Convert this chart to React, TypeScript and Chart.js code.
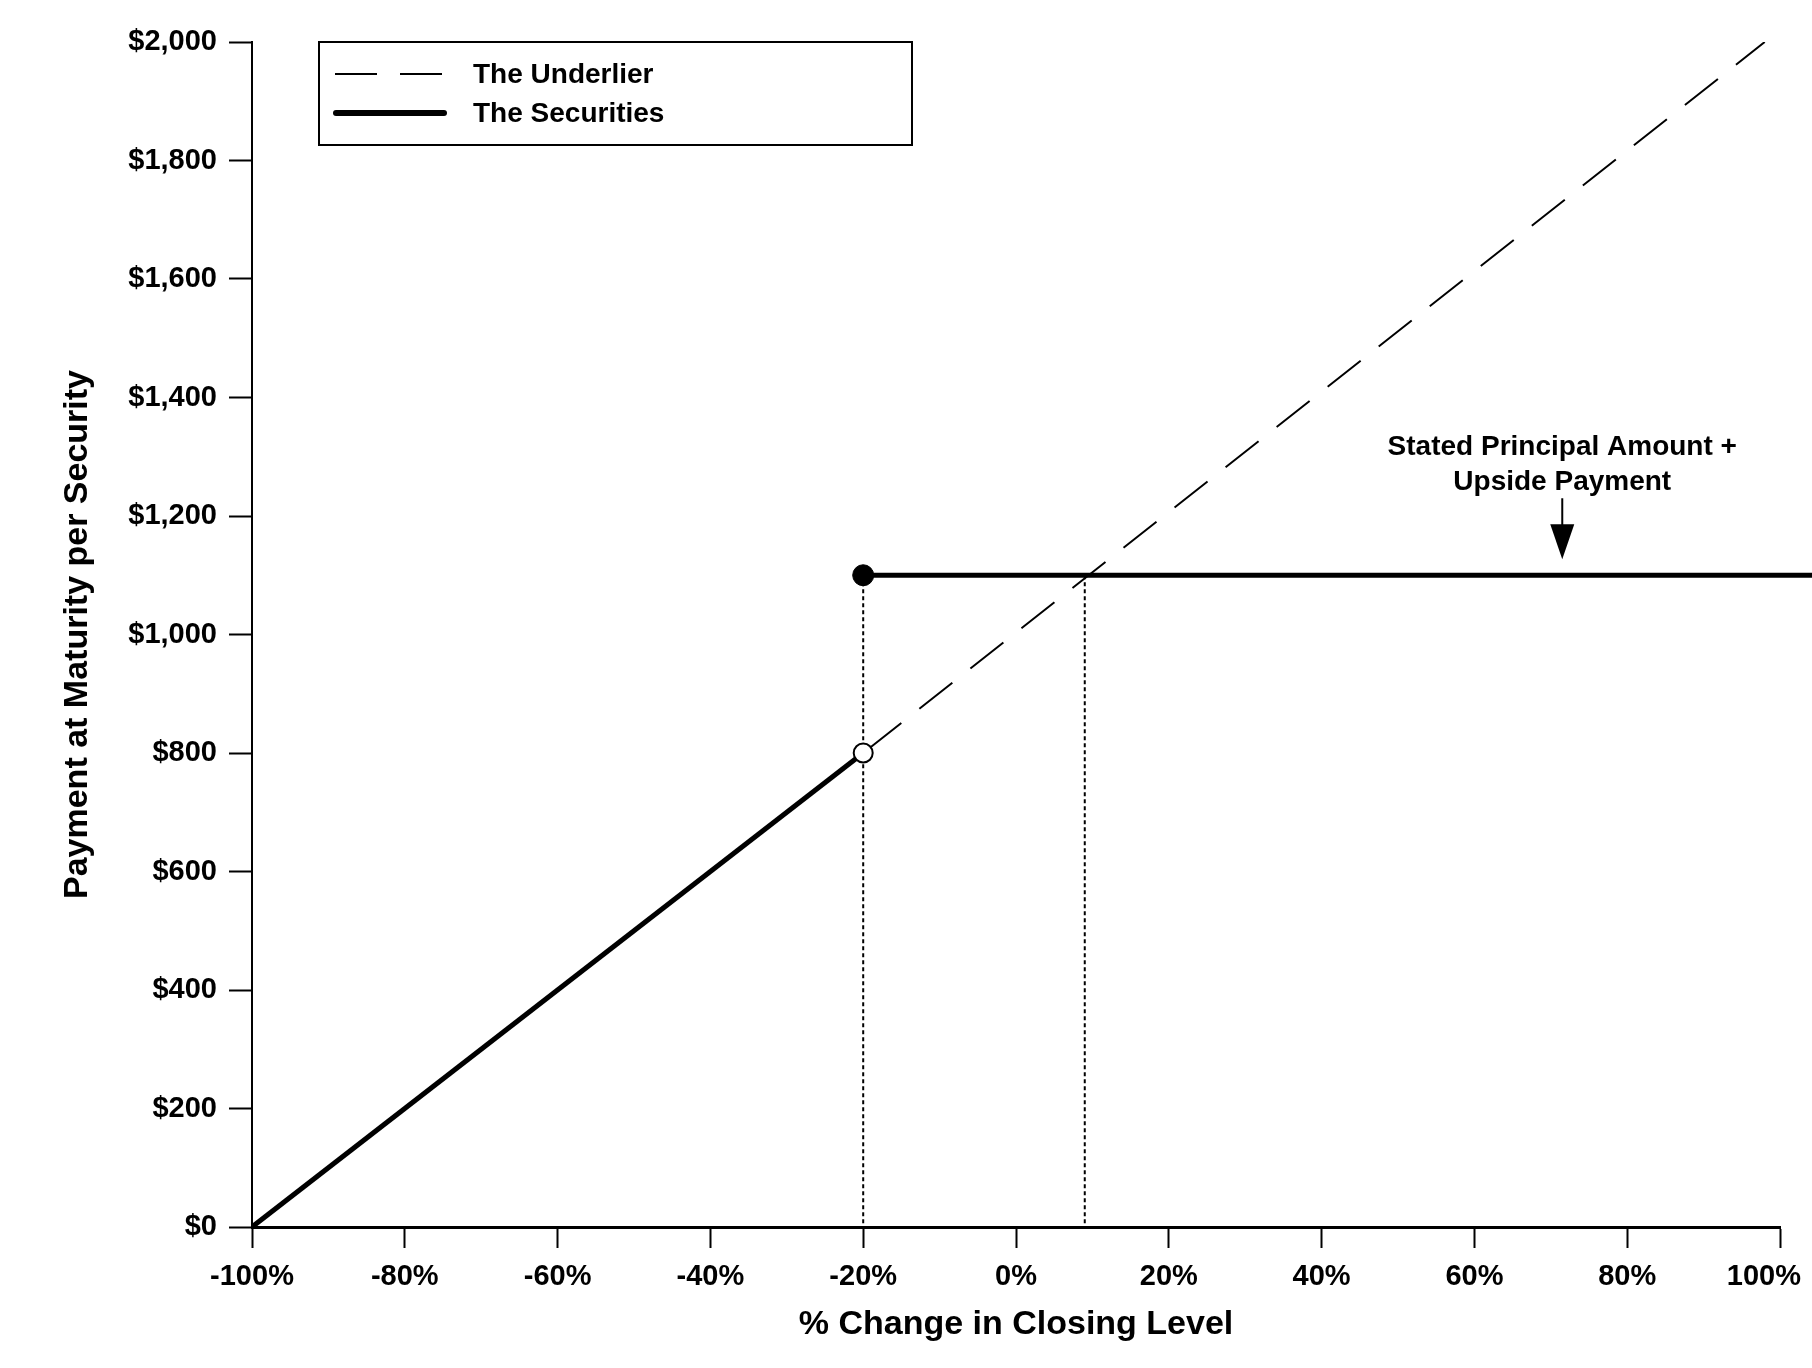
import { useEffect, useRef } from "react"
import { Chart, registerables } from "chart.js"

Chart.register(...registerables)

const FONT = '"Liberation Sans", Arial, Helvetica, sans-serif'

// x = % change in closing level, y = payment at maturity ($)
const underlierX = [-100, -20, 98]
const underlierY = [0, 800, 2000]
const securitiesLowX = [-100, -20]
const securitiesLowY = [0, 800]
const securitiesCapX = [-20, 106]
const securitiesCapY = [1100, 1100]
const guideX = [-20, 9]
const guideTopY = 1100
const openPoint = { x: -20, y: 800 }
const closedPoint = { x: -20, y: 1100 }

const xMin = -100
const xMax = 100
const xStep = 20
const yMin = 0
const yMax = 2000
const yStep = 200

const legendLabels = ["The Underlier", "The Securities"]
const annotationLines = ["Stated Principal Amount +", "Upside Payment"]
const annotationX = 71.5
const annotationTipY = 1127

const toPoints = (xs: number[], ys: number[]) => xs.map((x, i) => ({ x, y: ys[i] }))

const legendPlugin = {
  id: "boxLegend",
  afterDraw(chart: any) {
    const { ctx } = chart
    const sets = chart.data.datasets
    const underlier = sets.find((d: any) => d.label === legendLabels[0])
    const securities = sets.find((d: any) => d.label === legendLabels[1])
    ctx.save()
    ctx.strokeStyle = "#000"
    ctx.lineWidth = 2
    ctx.strokeRect(319, 42, 593, 103)

    ctx.beginPath()
    ctx.setLineDash(underlier.borderDash)
    ctx.lineWidth = underlier.borderWidth
    ctx.moveTo(335, 74)
    ctx.lineTo(445, 74)
    ctx.stroke()

    ctx.beginPath()
    ctx.setLineDash([])
    ctx.lineCap = "round"
    ctx.lineWidth = securities.borderWidth + 1
    ctx.moveTo(336, 113)
    ctx.lineTo(444, 113)
    ctx.stroke()

    ctx.fillStyle = "#000"
    ctx.font = `bold 28px ${FONT}`
    ctx.textBaseline = "middle"
    ctx.textAlign = "left"
    ctx.fillText(legendLabels[0], 473, 75)
    ctx.fillText(legendLabels[1], 473, 114)
    ctx.restore()
  },
}

const annotationPlugin = {
  id: "capAnnotation",
  afterDraw(chart: any) {
    const { ctx, scales } = chart
    const px = scales.x.getPixelForValue(annotationX)
    const tip = scales.y.getPixelForValue(annotationTipY)
    ctx.save()
    ctx.fillStyle = "#000"
    ctx.strokeStyle = "#000"
    ctx.font = `bold 28px ${FONT}`
    ctx.textAlign = "center"
    ctx.textBaseline = "middle"
    ctx.fillText(annotationLines[0], px, tip - 112)
    ctx.fillText(annotationLines[1], px, tip - 77)

    ctx.lineWidth = 2
    ctx.beginPath()
    ctx.moveTo(px, tip - 61)
    ctx.lineTo(px, tip - 34)
    ctx.stroke()

    ctx.beginPath()
    ctx.moveTo(px - 12, tip - 35)
    ctx.lineTo(px + 12, tip - 35)
    ctx.lineTo(px, tip)
    ctx.closePath()
    ctx.fill()
    ctx.restore()
  },
}

function PayoffChart() {
  const chartRef = useRef<HTMLCanvasElement>(null)
  const chartInstance = useRef<Chart | null>(null)

  useEffect(() => {
    if (!chartRef.current) return

    if (chartInstance.current) {
      chartInstance.current.destroy()
    }

    const ctx = chartRef.current.getContext("2d")
    if (!ctx) return

    chartInstance.current = new Chart(ctx, {
      type: "scatter",
      data: {
        datasets: [
          // markers (drawn on top)
          {
            label: "closed",
            data: [closedPoint],
            pointRadius: 10.5,
            pointBackgroundColor: "#000",
            pointBorderColor: "#000",
            pointBorderWidth: 1,
            showLine: false,
          },
          {
            label: "open",
            data: [openPoint],
            pointRadius: 9.5,
            pointBackgroundColor: "#fff",
            pointBorderColor: "#000",
            pointBorderWidth: 2,
            showLine: false,
          },
          {
            label: "The Securities",
            data: toPoints(securitiesLowX, securitiesLowY),
            showLine: true,
            borderColor: "#000",
            borderWidth: 5,
            pointRadius: 0,
          },
          {
            label: "The Securities cap",
            data: toPoints(securitiesCapX, securitiesCapY),
            showLine: true,
            borderColor: "#000",
            borderWidth: 5,
            pointRadius: 0,
            clip: false,
          },
          ...guideX.map((gx) => ({
            label: "guide",
            data: [
              { x: gx, y: guideTopY },
              { x: gx, y: yMin },
            ],
            showLine: true,
            borderColor: "#000",
            borderWidth: 2,
            borderDash: [4, 3],
            pointRadius: 0,
          })),
          {
            label: "The Underlier",
            data: toPoints(underlierX, underlierY),
            showLine: true,
            borderColor: "#000",
            borderWidth: 2,
            borderDash: [42, 23],
            pointRadius: 0,
          },
        ],
      },
      options: {
        responsive: false,
        devicePixelRatio: 1,
        animation: false,
        layout: {
          padding: { left: 0, right: 32, top: 42, bottom: 0 },
        },
        scales: {
          x: {
            type: "linear",
            min: xMin,
            max: xMax,
            afterFit: (scale: any) => {
              scale.height = 141
              scale.paddingLeft = 0
              scale.paddingRight = 0
            },
            ticks: {
              stepSize: xStep,
              color: "#000",
              padding: 12,
              maxRotation: 0,
              font: { family: FONT, size: 29, weight: "bold" },
              callback: (value) => (Number(value) === xMax ? value + "%    " : value + "%"),
            },
            grid: {
              drawOnChartArea: false,
              drawTicks: true,
              tickLength: 21,
              tickWidth: 2,
              tickColor: "#000",
            },
            border: { display: true, color: "#000", width: 3 },
            title: {
              display: true,
              text: "% Change in Closing Level",
              color: "#000",
              font: { family: FONT, size: 34, weight: "bold" },
              padding: { top: 0, bottom: 23 },
            },
          },
          y: {
            type: "linear",
            min: yMin,
            max: yMax,
            afterFit: (scale: any) => {
              scale.width = 252
            },
            ticks: {
              stepSize: yStep,
              color: "#000",
              padding: 12,
              font: { family: FONT, size: 29, weight: "bold" },
              callback: (value) => "$" + Number(value).toLocaleString("en-US"),
            },
            grid: {
              drawOnChartArea: false,
              drawTicks: true,
              tickLength: 23,
              tickWidth: 2,
              tickColor: "#000",
            },
            border: { display: true, color: "#000", width: 2 },
            title: {
              display: true,
              text: "Payment at Maturity per Security",
              color: "#000",
              font: { family: FONT, size: 34, weight: "bold" },
              padding: { top: 57, bottom: 0 },
            },
          },
        },
        plugins: {
          legend: { display: false },
          tooltip: { enabled: false },
        },
      },
      plugins: [legendPlugin, annotationPlugin],
    })

    return () => {
      if (chartInstance.current) {
        chartInstance.current.destroy()
        chartInstance.current = null
      }
    }
  }, [])

  return <canvas ref={chartRef} width={1812} height={1368} style={{ display: "block" }} />
}

export default function App() {
  return (
    <div style={{ position: "absolute", left: 0, top: 0, width: 1812, height: 1368, background: "#fff" }}>
      <PayoffChart />
    </div>
  )
}
